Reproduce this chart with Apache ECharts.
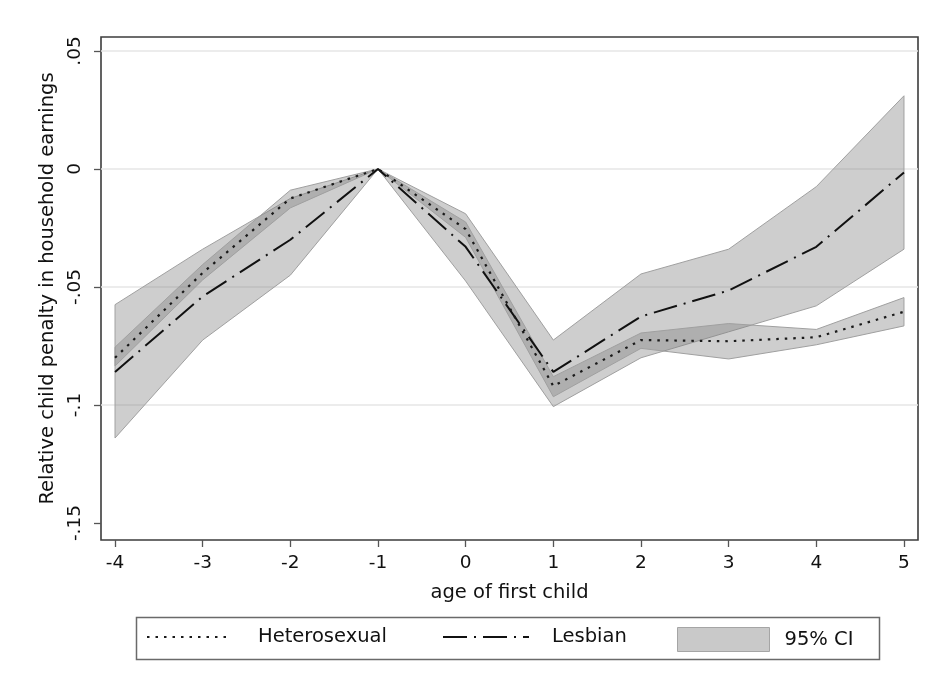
<!DOCTYPE html>
<html><head><meta charset="utf-8">
<script src="https://cdn.jsdelivr.net/npm/echarts@6/dist/echarts.min.js"></script>
<style>html,body{margin:0;padding:0;background:#fff}#c{width:932px;height:686px}</style>
</head><body><div id="c"></div>
<script>
// ---- data ----
const ages = [-4, -3, -2, -1, 0, 1, 2, 3, 4, 5];
const hetero      = [-0.080, -0.044, -0.0125, 0, -0.0255, -0.092, -0.0725, -0.073, -0.0713, -0.0605];
const heteroUpper = [-0.0755, -0.0405, -0.009, 0, -0.0225, -0.088, -0.0695, -0.0655, -0.068, -0.0545];
const heteroLower = [-0.0835, -0.047, -0.0165, 0, -0.0290, -0.0965, -0.076, -0.0805, -0.0745, -0.0665];
const lesbian      = [-0.086, -0.054, -0.030, 0, -0.033, -0.086, -0.0625, -0.0515, -0.033, -0.0015];
const lesbianUpper = [-0.0575, -0.034, -0.0125, 0, -0.019, -0.0725, -0.0445, -0.034, -0.0075, 0.031];
const lesbianLower = [-0.114, -0.0725, -0.045, 0, -0.0475, -0.1007, -0.080, -0.069, -0.058, -0.034];
const xTicks = [-4, -3, -2, -1, 0, 1, 2, 3, 4, 5];
const yTicks = [-0.15, -0.1, -0.05, 0, 0.05];
const yTickLabels = ['-.15', '-.1', '-.05', '0', '.05'];
const yGridValues = [-0.1, -0.05, 0, 0.05];

const FONT = 'DejaVu Sans';
const chart = echarts.init(document.getElementById('c'), null, {renderer: 'canvas'});

function bandSeries(lower, upper) {
  return {
    type: 'custom', name: '95% CI', silent: true, z: 1,
    data: ages.map((a, i) => [a, lower[i], upper[i]]),
    encode: {x: 0, y: [1, 2]},
    itemStyle: {color: '#c9c9c9'},
    renderItem: function (params, api) {
      if (params.dataIndexInside !== 0) return null;
      const n = ages.length, pts = [];
      for (let i = 0; i < n; i++) pts.push(api.coord([api.value(0, i), api.value(2, i)]));
      for (let i = n - 1; i >= 0; i--) pts.push(api.coord([api.value(0, i), api.value(1, i)]));
      return {type: 'polygon', shape: {points: pts},
        style: {fill: 'rgba(125,125,125,0.38)', stroke: '#a0a0a0', lineWidth: 1}};
    }
  };
}
function yLabel(v) {
  for (let i = 0; i < yTicks.length; i++) if (Math.abs(yTicks[i] - v) < 1e-9) return yTickLabels[i];
  return '';
}
const legendBase = {
  orient: 'horizontal', top: 627, padding: 0, itemHeight: 24, selectedMode: false,
  textStyle: {fontFamily: FONT, fontSize: 19.5, color: '#111'}
};

chart.setOption({
  animation: false,
  backgroundColor: '#fff',
  grid: {left: 101, right: 14, top: 37, bottom: 146, show: true,
    borderColor: '#3c3c3c', borderWidth: 1.6, backgroundColor: 'transparent'},
  xAxis: {
    type: 'value', min: -4.16, max: 5.16,
    name: 'age of first child', nameLocation: 'middle', nameGap: 43,
    nameTextStyle: {fontFamily: FONT, fontSize: 19.5, color: '#111'},
    axisLine: {show: false, onZero: false},
    axisTick: {show: true, length: 7, customValues: xTicks, lineStyle: {color: '#555', width: 1.3}},
    axisLabel: {customValues: xTicks, margin: 14, fontFamily: FONT, fontSize: 18.5, color: '#111',
      formatter: v => String(v)},
    splitLine: {show: false}
  },
  yAxis: {
    type: 'value', min: -0.1572, max: 0.0559,
    name: 'Relative child penalty in household earnings', nameLocation: 'middle', nameGap: 38,
    nameRotate: 90,
    nameTextStyle: {fontFamily: FONT, fontSize: 19.5, color: '#111'},
    axisLine: {show: false, onZero: false},
    axisTick: {show: true, length: 7, customValues: yTicks, lineStyle: {color: '#555', width: 1.3}},
    axisLabel: {customValues: yTicks, rotate: 90, margin: 16, fontFamily: FONT, fontSize: 18.5,
      color: '#111', formatter: yLabel},
    splitLine: {show: false}
  },
  legend: [
    Object.assign({}, legendBase, {left: 146, itemWidth: 81, data: ['Heterosexual'],
      itemStyle: {opacity: 0},
      textStyle: Object.assign({}, legendBase.textStyle, {padding: [2, 0, 0, 25]})}),
    Object.assign({}, legendBase, {left: 442, itemWidth: 86, data: ['Lesbian'],
      itemStyle: {opacity: 0},
      textStyle: Object.assign({}, legendBase.textStyle, {padding: [2, 0, 0, 18]})}),
    Object.assign({}, legendBase, {left: 677, itemWidth: 92,
      data: [{name: '95% CI', icon: 'rect', itemStyle: {color: '#c9c9c9', borderColor: '#a5a5a5', borderWidth: 1}}],
      textStyle: Object.assign({}, legendBase.textStyle, {padding: [2, 0, 0, 10]})})
  ],
  graphic: [{type: 'rect', shape: {x: 136.5, y: 617.5, width: 743, height: 42},
    style: {fill: 'none', stroke: '#6a6a6a', lineWidth: 1.5}, silent: true, z: 0}],
  series: [
    bandSeries(lesbianLower, lesbianUpper),
    bandSeries(heteroLower, heteroUpper),
    {
      type: 'line', name: 'Lesbian', symbol: 'none', z: 3,
      data: ages.map((a, i) => [a, lesbian[i]]),
      lineStyle: {color: '#111', width: 2, type: [24, 7, 2, 7]},
      itemStyle: {color: '#111'},
      markLine: {silent: true, symbol: 'none', label: {show: false}, z: 0,
        lineStyle: {color: '#e6e6e6', width: 1.6, type: 'solid'},
        data: yGridValues.map(v => ({yAxis: v}))}
    },
    {
      type: 'line', name: 'Heterosexual', symbol: 'none', z: 4,
      data: ages.map((a, i) => [a, hetero[i]]),
      lineStyle: {color: '#1a1a1a', width: 2.2, type: [2.5, 6]},
      itemStyle: {color: '#1a1a1a'}
    }
  ]
});
</script></body></html>
